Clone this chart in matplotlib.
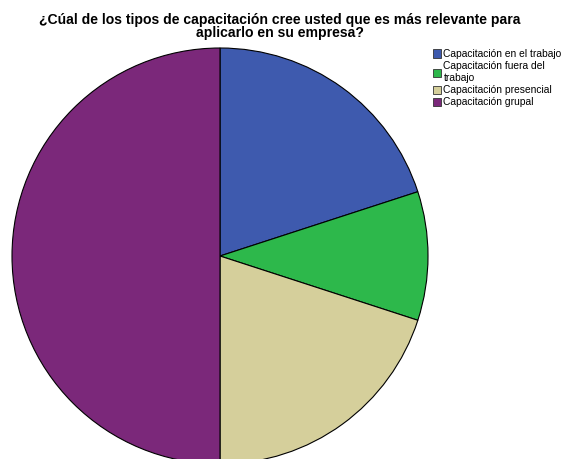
import matplotlib
matplotlib.use('Agg')
import matplotlib.pyplot as plt
from matplotlib.patches import Patch

plt.rcParams['font.family'] = ['Liberation Sans', 'DejaVu Sans']

categorias = ['Capacitación en el trabajo', 'Capacitación fuera del\ntrabajo',
              'Capacitación presencial', 'Capacitación grupal']
porcentajes = [20, 10, 20, 50]
colores = ['#3E5AAE', '#2DB84B', '#D5CF9B', '#7B287A']

fig = plt.figure(figsize=(5.64, 4.59), dpi=100)
ax = fig.add_axes([0, 0, 1, 1])

# pie drawn in pixel-like data units so the circle sits where it should
ax.pie(porcentajes, colors=colores, startangle=90, counterclock=False,
       center=(220, 203), radius=208, frame=True,
       wedgeprops=dict(edgecolor='black', linewidth=0.8))
ax.set_xlim(0, 564)
ax.set_ylim(0, 459)
ax.set_aspect('equal')
ax.axis('off')

fig.text(0.496, 0.972, '¿Cúal de los tipos de capacitación cree usted que es más relevante para\naplicarlo en su empresa?',
         ha='center', va='top', fontsize=10.1, fontweight='bold', linespacing=0.95)

handles = [Patch(facecolor=c, edgecolor='#333333', linewidth=0.6) for c in colores]
fig.legend(handles, categorias, loc='upper left', bbox_to_anchor=(0.767, 0.893),
           frameon=False, fontsize=7.4, handlelength=0.85, handleheight=0.85,
           handletextpad=0.2, labelspacing=0.22, borderpad=0, borderaxespad=0)

fig.savefig('out.png', dpi=100)
